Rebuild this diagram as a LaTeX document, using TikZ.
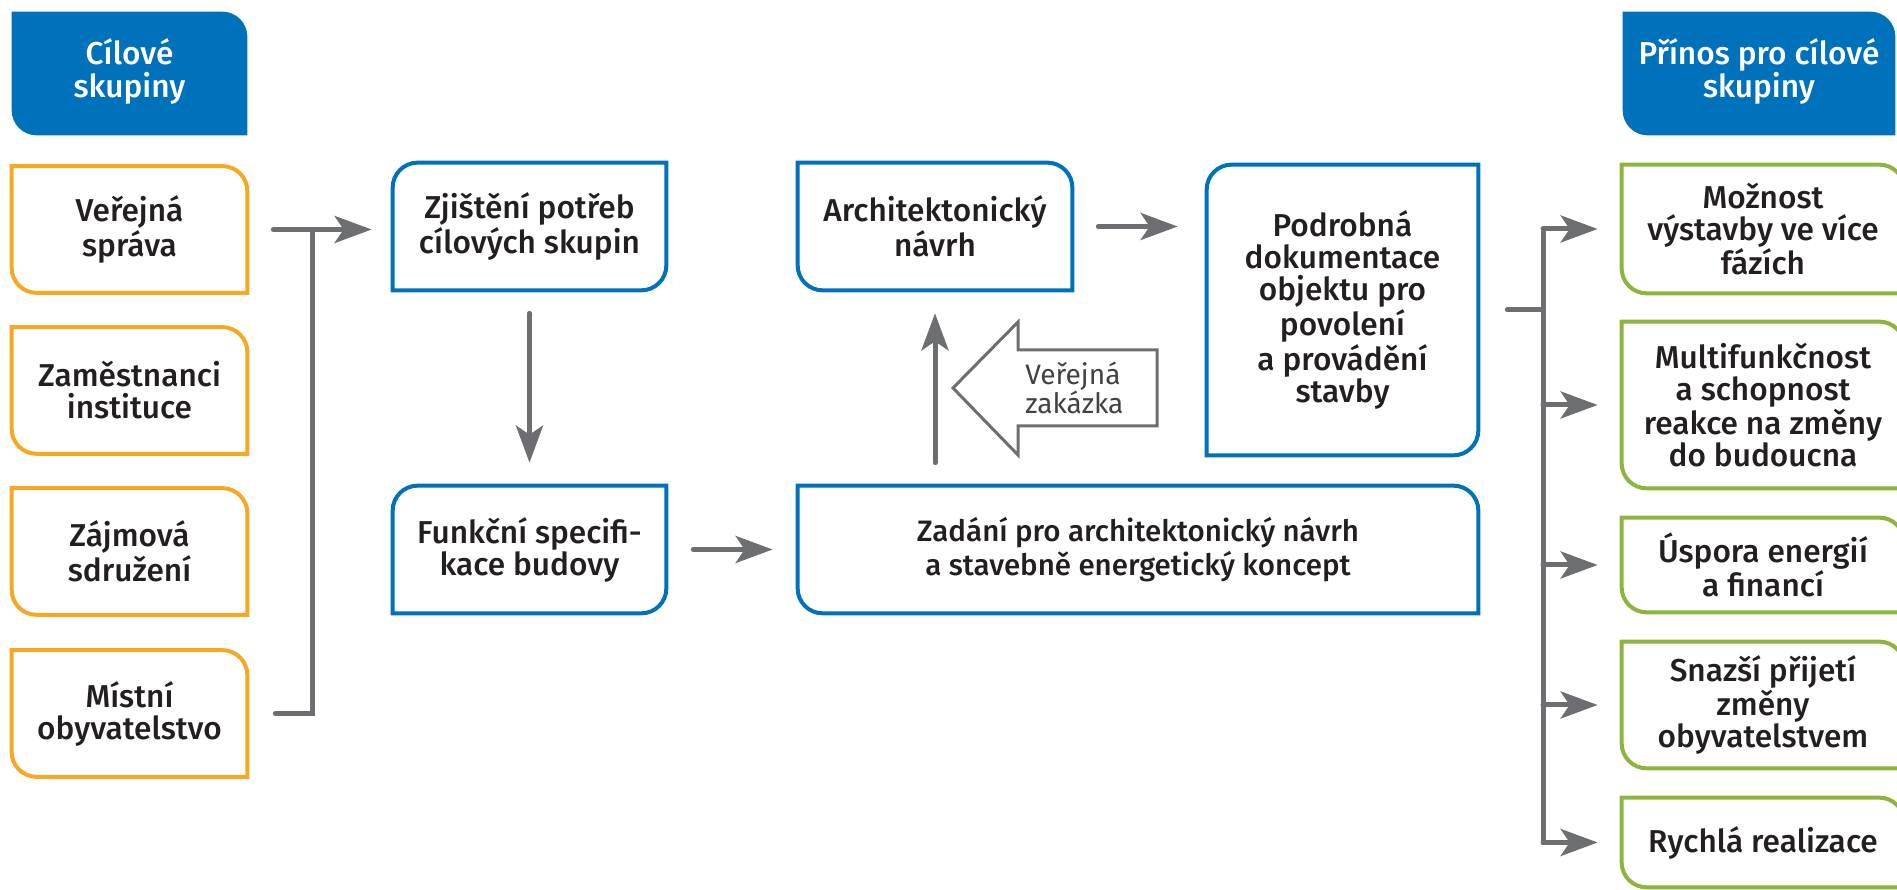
\documentclass[tikz,border=0pt]{standalone}
\usepackage{fontspec}
\setmainfont{Fira Sans}[BoldFont={Fira Sans Medium}]
\usepackage{tikz}
\usetikzlibrary{arrows.meta,positioning,calc}
\definecolor{cblue}{RGB}{0,114,188}
\definecolor{corange}{RGB}{247,168,35}
\definecolor{cgreen}{RGB}{141,180,62}
\definecolor{cgray}{RGB}{109,110,113}
\definecolor{ctext}{RGB}{35,31,32}
\newcommand{\crad}{5mm}
% outline with rounded north-east and south-west corners
\newcommand{\cornerne}[2]{\path[#2] (#1.north west) -- ([xshift=-\crad]#1.north east)
  arc[start angle=90,end angle=0,radius=\crad] -- (#1.south east)
  -- ([xshift=\crad]#1.south west) arc[start angle=270,end angle=180,radius=\crad] -- cycle;}
% outline with rounded north-west and south-east corners
\newcommand{\cornernw}[2]{\path[#2] ([yshift=-\crad]#1.north west)
  arc[start angle=180,end angle=90,radius=\crad] -- (#1.north east)
  -- ([yshift=\crad]#1.south east) arc[start angle=0,end angle=-90,radius=\crad]
  -- (#1.south west) -- cycle;}

\begin{document}
\begin{tikzpicture}[x=0.2mm, y=0.2mm,
  box/.style={inner sep=0pt, align=center, text=ctext,
    font=\fontsize{18}{18.2}\selectfont\bfseries},
  head/.style={box, text=white, font=\fontsize{18}{18.8}\selectfont\bfseries},
  bus/.style={draw=cgray, line width=1mm, line cap=round},
  flow/.style={bus, -{Stealth[length=7.4mm,width=5.4mm,inset=1.8mm]}},
  edge/.style={line width=0.8mm}]
\useasboundingbox (0,0) rectangle (1897,890);

% headers
\node[minimum width=47mm, minimum height=24.6mm, inner sep=0pt] (h1) at (129.5,816.5) {};
\node[minimum width=54.4mm, minimum height=24.6mm, inner sep=0pt] (h2) at (1759,816.5) {};
\cornerne{h1}{fill=cblue}
\cornerne{h2}{fill=cblue}
\node[head] (h1t) at ([yshift=0.4mm]h1.center) {Cílové\\skupiny};
\node[head] (h2t) at ([yshift=0.4mm]h2.center) {Přínos pro cílové\\skupiny};

% target groups
\node[box, minimum width=47mm, minimum height=25.2mm] (o1) at (129.5,660.5) {Veřejná\\správa};
\node[box, minimum width=47mm, minimum height=25.2mm] (o2) at (129.5,499.5) {Zaměstnanci\\instituce};
\node[box, minimum width=47mm, minimum height=25.2mm] (o3) at (129.5,338.5) {Zájmová\\sdružení};
\node[box, minimum width=47mm, minimum height=25.2mm] (o4) at (129.5,176.5) {Místní\\obyvatelstvo};

% process
\node[box, minimum width=54.6mm, minimum height=25.4mm] (zj) at (529.5,663.5) {Zjištění potřeb\\cílových skupin};
\node[box, minimum width=54.6mm, minimum height=25.4mm] (fun) at (529.5,340.5) {Funkční specifi-\\kace budovy};
\node[box, minimum width=54.8mm, minimum height=25.4mm] (arch) at (935,663.5) {Architektonický\\návrh};
\node[box, minimum width=54.2mm, minimum height=58mm] (pod) at (1342.5,580)
  {Podrobná\\dokumentace\\objektu pro\\povolení\\a provádění\\stavby};
\node[box, minimum width=136mm, minimum height=25.4mm, font=\fontsize{16.8}{19.2}\selectfont\bfseries] (zad) at (1138,340.5)
  {Zadání pro architektonický návrh\\a stavebně energetický koncept};

% benefits
\node[box, minimum width=56.4mm, minimum height=25.6mm] (g1) at (1763,661) {Možnost\\výstavby ve více\\fázích};
\node[box, minimum width=56.4mm, minimum height=33.2mm] (g2) at (1763,485) {Multifunkčnost\\a schopnost\\reakce na změny\\do budoucna};
\node[box, minimum width=56.4mm, minimum height=18.8mm] (g3) at (1763,325) {Úspora energií\\a financí};
\node[box, minimum width=56.4mm, minimum height=25.2mm] (g4) at (1763,185) {Snazší přijetí\\změny\\obyvatelstvem};
\node[box, minimum width=56.4mm, minimum height=17.8mm] (g5) at (1763,47.5) {Rychlá realizace};

% outlines
\foreach \n in {o1,o2,o3,o4} {\cornerne{\n}{draw=corange, edge}}
\foreach \n in {g1,g2,g3,g4,g5} {\cornerne{\n}{draw=cgreen, edge}}
\cornernw{zj}{draw=cblue, edge}
\cornernw{fun}{draw=cblue, edge}
\cornernw{pod}{draw=cblue, edge}
\cornerne{arch}{draw=cblue, edge}
\cornerne{zad}{draw=cblue, edge}

% left bus
\coordinate (lb) at (312,0);
\draw[bus] ($(o4.east)+(28,0)$) -- (lb |- o4.east) -- (lb |- o1.east);
\draw[flow, shorten >=4.2mm] ($(o1.east)+(26,0)$) -- (o1.east -| zj.west);

% arrows between steps
\draw[flow, shorten <=4.6mm, shorten >=4.6mm] (zj.south) -- (fun.north);
\draw[flow, shorten <=5.4mm, shorten >=5mm] (fun.east) -- (fun.east -| zad.west);
\draw[flow, shorten <=4.6mm, shorten >=4.6mm] (arch.south |- zad.north) -- (arch.south);
\draw[flow, shorten <=5.2mm, shorten >=5.8mm] (arch.east) -- (arch.east -| pod.west);

% public tender
\draw[cgray, line width=0.6mm, fill=white] (953,502) -- (1018,568) -- (1018,540) -- (1157,540)
  -- (1157,464) -- (1018,464) -- (1018,435) -- cycle;
\node[anchor=west, align=left, inner sep=0pt, text=ctext!85, font=\fontsize{16}{16.6}\selectfont] (vz) at (1025,502) {Veřejná\\zakázka};

% right bus
\coordinate (rb) at (1543,0);
\draw[bus] ($(pod.east)+(29,0)$) -- (rb |- pod.east);
\draw[bus] (rb |- g1.west) -- (rb |- g5.west);
\foreach \g in {g1,g2,g3,g4,g5} {\draw[flow, shorten >=4.8mm] (rb |- \g.west) -- (\g.west);}
\end{tikzpicture}
\end{document}
